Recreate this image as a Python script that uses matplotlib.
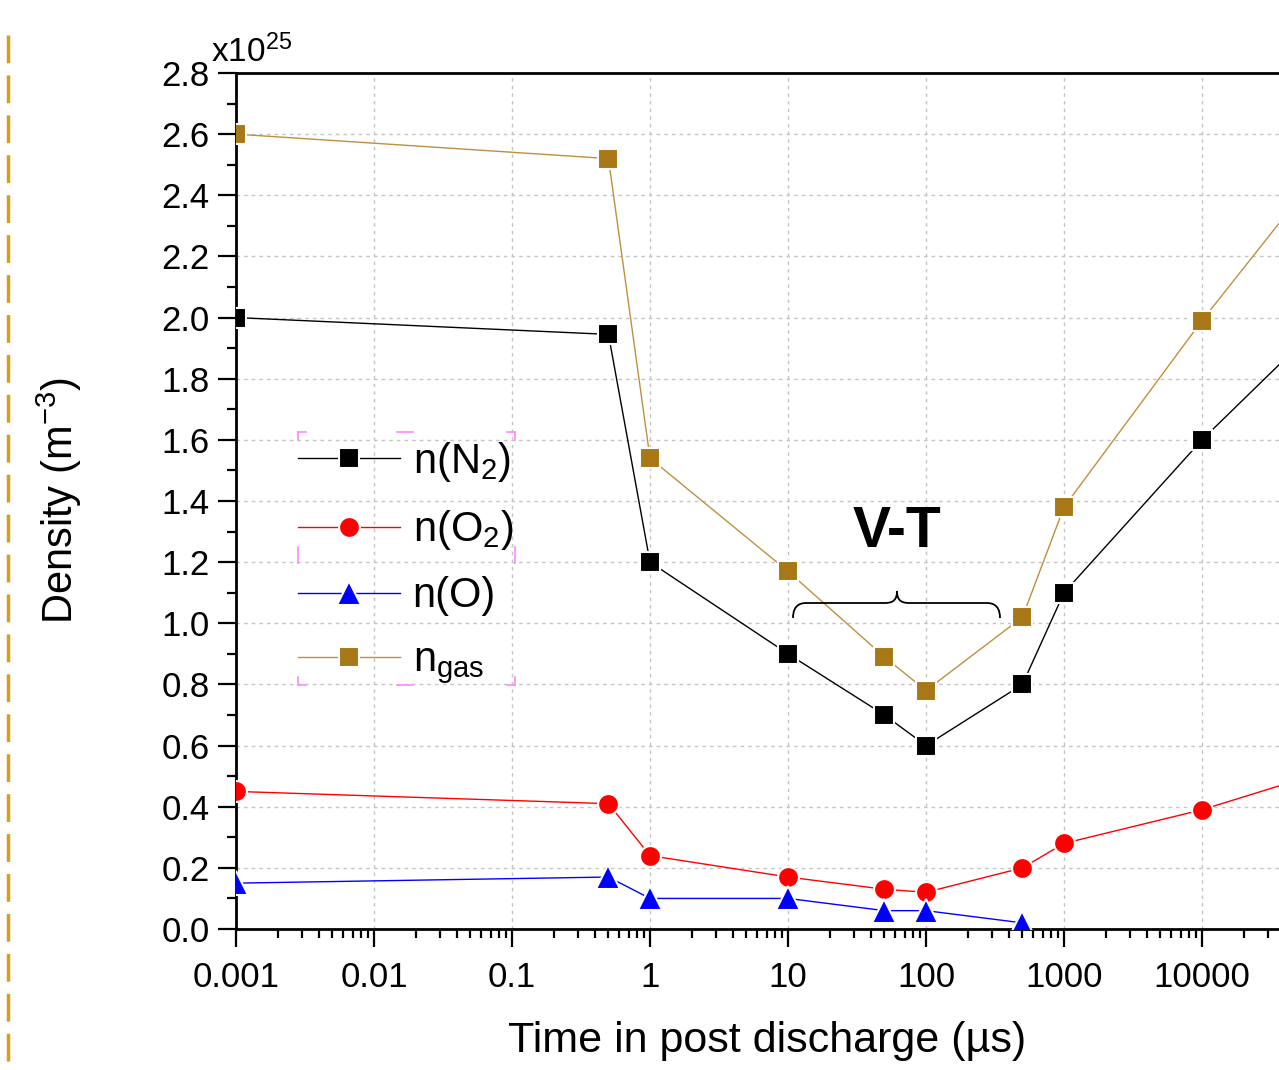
import matplotlib
matplotlib.use("Agg")
import matplotlib.pyplot as plt
from matplotlib.lines import Line2D
from matplotlib.path import Path
from matplotlib.patches import PathPatch
from matplotlib.ticker import LogLocator, FixedLocator, MultipleLocator, FuncFormatter

plt.rcParams['font.family'] = ['Liberation Sans', 'DejaVu Sans']
plt.rcParams['mathtext.fontset'] = 'custom'
plt.rcParams['mathtext.rm'] = 'Liberation Sans'
plt.rcParams['mathtext.it'] = 'Liberation Sans:italic'
plt.rcParams['mathtext.bf'] = 'Liberation Sans:bold'

# ---- data (densities in units of 1e25 m^-3) ----
t_main = [0.001, 0.5, 1, 10, 50, 100, 500, 1000, 10000, 100000]
n_N2 = [2.00, 1.945, 1.20, 0.90, 0.70, 0.60, 0.80, 1.10, 1.60, 2.04]
n_O2 = [0.45, 0.41, 0.24, 0.17, 0.13, 0.12, 0.20, 0.28, 0.39, 0.53]
n_gas = [2.60, 2.52, 1.54, 1.17, 0.89, 0.78, 1.02, 1.38, 1.99, 2.56]
t_O = [0.001, 0.5, 1, 10, 50, 100, 500]
n_O = [0.15, 0.17, 0.10, 0.10, 0.06, 0.06, 0.02]

labels = [r'n(N$_2$)', r'n(O$_2$)', 'n(O)', r'n$_{\mathrm{gas}}$']
x_ticks = [0.001, 0.01, 0.1, 1, 10, 100, 1000, 10000]
x_ticklabels = ['0.001', '0.01', '0.1', '1', '10', '100', '1000', '10000']

gold_marker = '#A87716'
gold_line = '#BE9040'

W, H = 1279, 1070
fig = plt.figure(figsize=(W / 100, H / 100), dpi=100)

def fx(px):
    return px / W

def fy(py):
    return 1 - py / H

ax = fig.add_axes([fx(236), fy(929), (1340 - 236) / W, (929 - 73) / H])
ax.set_xscale('log')
ax.set_xlim(0.001, 100000)
ax.set_ylim(0, 2.8)

common = dict(lw=1.0, markeredgecolor='white', markeredgewidth=1.5, zorder=3)
ax.plot(t_main, n_N2, color='black', marker='s', markersize=14, markerfacecolor='black',
        label=labels[0], **common)
ax.plot(t_main, n_O2, color='red', marker='o', markersize=15, markerfacecolor='red',
        label=labels[1], **common)
ax.plot(t_O, n_O, color='blue', marker='^', markersize=17, markerfacecolor='blue',
        label=labels[2], **common)
ax.plot(t_main, n_gas, color=gold_line, marker='s', markersize=14, markerfacecolor=gold_marker,
        label=labels[3], **common)

# ticks
ax.xaxis.set_major_locator(FixedLocator(x_ticks))
ax.set_xticklabels(x_ticklabels)
ax.xaxis.set_minor_locator(LogLocator(base=10, subs=range(2, 10), numticks=20))
ax.yaxis.set_major_locator(MultipleLocator(0.2))
ax.yaxis.set_minor_locator(MultipleLocator(0.1))
ax.yaxis.set_major_formatter(FuncFormatter(lambda v, p: f'{v:.1f}'))
ax.tick_params(which='major', direction='out', length=13, width=1.6, labelsize=25, pad=6)
ax.tick_params(which='minor', direction='out', length=6.5, width=1.6)
ax.tick_params(axis='x', which='major', pad=10)

for s in ['left', 'bottom', 'top']:
    ax.spines[s].set_linewidth(2.0)
ax.spines['right'].set_visible(False)

ax.grid(True, which='major', color='#c4c4c4', linestyle=(0, (2.5, 3)), linewidth=1.0)
ax.set_axisbelow(True)

ax.set_xlabel('Time in post discharge (µs)', fontsize=31)
ax.xaxis.set_label_coords((767 - 236) / (1340 - 236), -0.108)
ax.set_ylabel(r'Density (m$^{-3}$)', fontsize=30)
ax.yaxis.set_label_coords((84 - 236) / (1340 - 236), 0.5)

fig.text(fx(211), fy(62), r'x10$^{25}$', fontsize=24, ha='left', va='baseline')

# legend
leg = ax.legend(loc='upper left', bbox_to_anchor=(fx(298), fy(440)), bbox_transform=fig.transFigure,
                frameon=False, fontsize=30, handlelength=2.45, handletextpad=0.3,
                labelspacing=0.58, borderpad=0, borderaxespad=0)

# legend selection handles (pink corner marks)
pink = '#FF88FF'
lx0, lx1, ly0, ly1 = 298, 515, 432, 685
lmx, lmy = 405, 555
arm = 8
segs = []
for (cx, cy, dx, dy) in [(lx0, ly0, 1, 1), (lx1, ly0, -1, 1), (lx0, ly1, 1, -1), (lx1, ly1, -1, -1)]:
    segs.append(([cx, cx + dx * arm], [cy, cy]))
    segs.append(([cx, cx], [cy, cy + dy * arm]))
segs.append(([lmx - arm, lmx + arm], [ly0, ly0]))
segs.append(([lmx - arm, lmx + arm], [ly1, ly1]))
segs.append(([lx0, lx0], [lmy - arm, lmy + arm]))
segs.append(([lx1, lx1], [lmy - arm, lmy + arm]))
for xs, ys in segs:
    fig.add_artist(Line2D([fx(v) for v in xs], [fy(v) for v in ys], color=pink, lw=1.2))

# V-T annotation with brace
fig.text(fx(897), fy(532), 'V-T', fontsize=41, fontweight='bold', ha='center', va='center')
bx0, bx1, btip = 793, 1000, 897
by_end, by_mid, by_tip = 618, 603, 591
verts = [
    (bx0, by_end), (bx0, by_mid), (bx0 + 10, by_mid), (bx0 + 14, by_mid),
    (btip - 12, by_mid),
    (btip - 3, by_mid), (btip, by_mid - 4), (btip, by_tip),
    (btip, by_mid - 4), (btip + 3, by_mid), (btip + 12, by_mid),
    (bx1 - 14, by_mid),
    (bx1 - 10, by_mid), (bx1, by_mid), (bx1, by_end),
]
codes = [Path.MOVETO, Path.CURVE4, Path.CURVE4, Path.LINETO, Path.LINETO,
         Path.CURVE4, Path.CURVE4, Path.CURVE4,
         Path.CURVE4, Path.CURVE4, Path.CURVE4,
         Path.LINETO,
         Path.CURVE4, Path.CURVE4, Path.CURVE4]
path = Path([(fx(a), fy(b)) for a, b in verts], codes)
fig.add_artist(PathPatch(path, facecolor='none', edgecolor='black', lw=1.3, transform=fig.transFigure))

# decorative dashed gold line at left edge
fig.add_artist(Line2D([fx(8), fx(8)], [fy(35), fy(1070)], color='#D4A017', lw=2.5,
                      linestyle=(0, (8, 3.5))))

fig.savefig('out.png', dpi=100)
